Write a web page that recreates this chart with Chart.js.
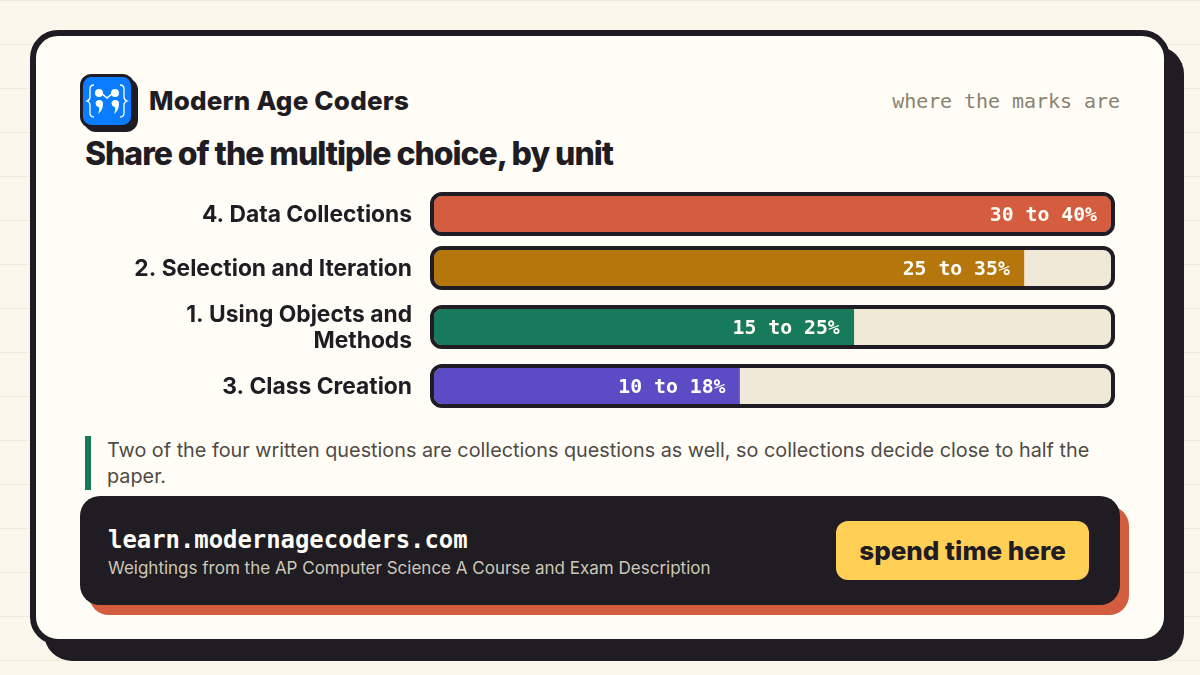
<!DOCTYPE html>
<html>
<head>
<meta charset="utf-8">
<script src="https://cdn.jsdelivr.net/npm/chart.js@4"></script>
<style>
html, body { margin: 0; padding: 0; }
body {
    width: 1200px; height: 675px; overflow: hidden; position: relative;
    background-color: #fbf7ec;
    background-image: repeating-linear-gradient(to bottom, #f2ebda 0, #f2ebda 1px, transparent 1px, transparent 44px);
    font-family: Inter, sans-serif; color: #1f1c24;
}
.abs { position: absolute; white-space: nowrap; }
#shadow { left: 44px; top: 46px; width: 1140px; height: 615px; background: #1f1c24; border-radius: 28px; }
#card { left: 30px; top: 30px; width: 1128px; height: 603px; background: #fffdf6; border: 6px solid #1f1c24; border-radius: 28px; }
#logo { left: 80px; top: 74px; }
#brand { left: 149px; top: 84px; font-size: 26px; line-height: 34px; font-weight: 850; letter-spacing: 0.2px; }
#where { right: 80px; top: 89px; font: 20px/24px "DejaVu Sans Mono", monospace; color: #8a8271; letter-spacing: -0.05px; }
#title { left: 85px; top: 134px; font-size: 32px; line-height: 40px; font-weight: 850; letter-spacing: -1.04px; }
.row { left: 85px; }
#noteBar { left: 85px; top: 436px; width: 6px; height: 54px; background: #177a5b; }
#note { left: 107px; top: 437px; font-size: 19.82px; line-height: 26px; color: #4f4a45; }
#footShadow { left: 89px; top: 506px; width: 1040px; height: 109px; background: #d45d3f; border-radius: 20px; }
#foot { left: 80px; top: 496px; width: 1040px; height: 109px; background: #1f1c24; border-radius: 20px; }
#url { left: 108px; top: 525px; font: bold 23.9px/30px "DejaVu Sans Mono", monospace; color: #fffdf6; }
#source { left: 108px; top: 557px; font-size: 17px; line-height: 22px; color: #cfc7b5; }
#cta { left: 836px; top: 521px; width: 253px; height: 59px; line-height: 59px; text-align: center; background: #ffcf56; border-radius: 12px; font-size: 26px; font-weight: 800; letter-spacing: 0; }
</style>
</head>
<body>
<div id="shadow" class="abs"></div>
<div id="card" class="abs"></div>
<svg id="logo" class="abs" width="58" height="58" viewBox="0 0 58 58">
    <rect x="4" y="4" width="54" height="54" rx="12" fill="#1f1c24"/>
    <rect x="1.500" y="1.500" width="51" height="51" rx="10" fill="#0a7cff" stroke="#1f1c24" stroke-width="3"/>
    <g fill="none" stroke="#fff" stroke-width="1.300">
        <path d="M14 11 q-4 0 -4 4 v8 q0 3 -3 4 q3 1 3 4 v8 q0 4 4 4"/>
        <path d="M40 11 q4 0 4 4 v8 q0 3 3 4 q-3 1 -3 4 v8 q0 4 -4 4"/>
        <path d="M21 19 l6 5 l6 -5" stroke-width="1.600"/>
    </g>
    <g fill="#fff">
        <circle cx="19" cy="19" r="4"/>
        <circle cx="35" cy="19" r="4"/>
        <path d="M15.500 29 a3.800 3.800 0 0 1 7.500 1 q0 6 -5 10 q2 -4 1 -7 q-3 0 -3.500 -4z"/>
        <path d="M31.500 29 a3.800 3.800 0 0 1 7.500 1 q0 6 -5 10 q2 -4 1 -7 q-3 0 -3.500 -4z"/>
    </g>
</svg>
<div id="brand" class="abs">Modern Age Coders</div>
<div id="where" class="abs">where the marks are</div>
<div id="title" class="abs">Share of the multiple choice, by unit</div>
<div id="rows"></div>
<div id="noteBar" class="abs"></div>
<div id="note" class="abs">Two of the four written questions are collections questions as well, so collections decide close to half the<br>paper.</div>
<div id="footShadow" class="abs"></div>
<div id="foot" class="abs"></div>
<div id="url" class="abs">learn.modernagecoders.com</div>
<div id="source" class="abs">Weightings from the AP Computer Science A Course and Exam Description</div>
<div id="cta" class="abs">spend time here</div>
<script>
// chart data
const unitNames = [
    '4. Data Collections',
    '2. Selection and Iteration',
    ['1. Using Objects and', 'Methods'],
    '3. Class Creation'
];
const rangeLabels = ['30 to 40%', '25 to 35%', '15 to 25%', '10 to 18%'];
const barEnds = [40, 34.85, 24.8, 18.05];
const axisMax = 40;

// styling per row
const barColors = ['#d45d3f', '#b5760b', '#177a5b', '#5b4bc4'];
const rowTops = [192, 246, 300, 364];
const rowHeights = [44, 44, 54, 44];

// track behind the bar, border on top of it, range label inside the bar end
const trackPlugin = {
    id: 'track',
    beforeDatasetsDraw(chart) {
        const a = chart.chartArea;
        const ctx = chart.ctx;
        ctx.save();
        ctx.beginPath();
        ctx.roundRect(a.left, a.top, a.right - a.left, a.bottom - a.top, 8);
        ctx.fillStyle = '#f1e9d8';
        ctx.fill();
        ctx.clip();
    },
    afterDatasetsDraw(chart) {
        const a = chart.chartArea;
        const ctx = chart.ctx;
        ctx.restore();
        ctx.beginPath();
        ctx.roundRect(a.left - 2, a.top - 2, a.right - a.left + 4, a.bottom - a.top + 4, 10);
        ctx.lineWidth = 4;
        ctx.strokeStyle = '#1f1c24';
        ctx.stroke();

        const bar = chart.getDatasetMeta(0).data[0];
        ctx.save();
        ctx.font = 'bold 19.8px "DejaVu Sans Mono", monospace';
        ctx.fillStyle = '#fffdf6';
        ctx.textAlign = 'right';
        ctx.textBaseline = 'middle';
        ctx.fillText(chart.data.datasets[0].rangeLabel, bar.x - 14, bar.y + 2);
        ctx.restore();
    }
};

const rowsDiv = document.getElementById('rows');

for (let i = 0; i < unitNames.length; i++) {
    const canvas = document.createElement('canvas');
    canvas.className = 'abs row';
    canvas.style.top = rowTops[i] + 'px';
    canvas.width = 1030;
    canvas.height = rowHeights[i];
    rowsDiv.appendChild(canvas);

    const padY = (rowHeights[i] - 36) / 2;
    new Chart(canvas, {
        type: 'bar',
        data: {
            labels: [unitNames[i]],
            datasets: [{
                data: [barEnds[i]],
                rangeLabel: rangeLabels[i],
                backgroundColor: barColors[i],
                barPercentage: 1,
                categoryPercentage: 1
            }]
        },
        options: {
            indexAxis: 'y',
            responsive: false,
            animation: false,
            layout: { padding: { top: padY, bottom: padY, left: 0, right: 4 } },
            plugins: { legend: { display: false }, tooltip: { enabled: false } },
            scales: {
                x: { display: false, min: 0, max: axisMax },
                y: {
                    // fixed gutter for the names, and no extra room above and below the tick label
                    afterFit(scale) {
                        scale.width = 349;
                        scale.paddingTop = 0;
                        scale.paddingBottom = 0;
                    },
                    border: { display: false },
                    grid: { display: false, drawTicks: false },
                    ticks: {
                        padding: 22,
                        labelOffset: 1,
                        color: '#1f1c24',
                        font: { family: 'Inter', size: 22.8, weight: '700', lineHeight: 26 / 22.8 }
                    }
                }
            }
        },
        plugins: [trackPlugin]
    });
}
</script>
</body>
</html>
